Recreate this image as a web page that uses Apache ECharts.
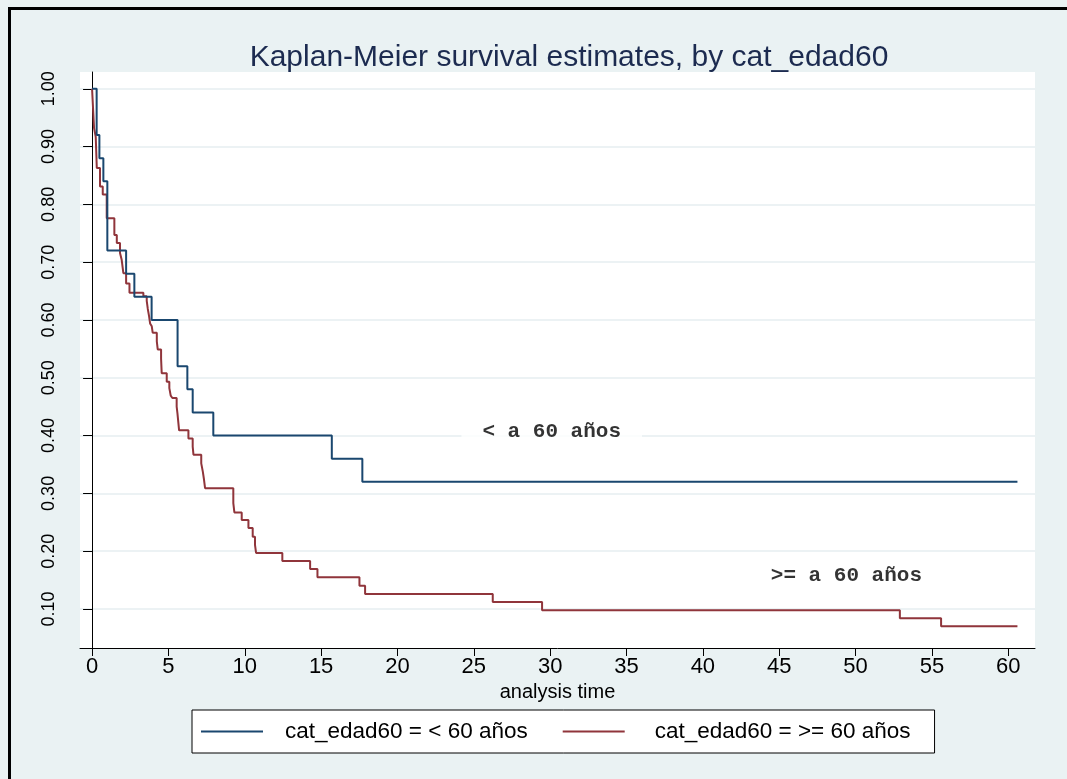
<!DOCTYPE html>
<html>
<head>
<meta charset="utf-8">
<script src="https://cdn.jsdelivr.net/npm/echarts@6/dist/echarts.min.js"></script>
<style>
  html, body { margin: 0; padding: 0; background: #eaf2f3; overflow: hidden; }
  #chart { width: 1067px; height: 779px; }
</style>
</head>
<body>
<div id="chart"></div>
<script>
// < 60 años : temps d'événement et survie estimée
var youngTime = [0, 0.30, 0.48, 0.74, 1.00, 2.23, 2.77, 3.90, 5.60, 6.24, 6.59, 7.94, 15.70, 17.70, 60.60]
var youngSurv = [1.00, 0.92, 0.88, 0.84, 0.72, 0.68, 0.64, 0.60, 0.52, 0.48, 0.44, 0.40, 0.36, 0.32, 0.32]

// >= 60 años
var oldTime = [0, 0.08, 0.13, 0.24, 0.31, 0.52, 0.70, 0.96, 1.46, 1.62, 1.83, 1.94, 2.05, 2.23, 2.45,
  3.36, 3.58, 3.65, 3.73, 3.80, 3.91, 3.97, 4.24, 4.30, 4.52, 4.56, 4.89, 5.06, 5.15, 5.26, 5.54, 5.59,
  5.70, 6.31, 6.59, 6.64, 7.15, 7.25, 7.33, 7.40, 9.25, 9.32, 9.80, 10.24, 10.52, 10.67, 10.74, 12.46,
  14.28, 14.76, 17.51, 17.88, 26.24, 29.47, 52.90, 55.60, 60.60]
var oldSurv = [1.000, 0.958, 0.932, 0.917, 0.863, 0.831, 0.817, 0.776, 0.747, 0.733, 0.716, 0.704, 0.681, 0.663, 0.647,
  0.641, 0.633, 0.619, 0.607, 0.594, 0.589, 0.578, 0.563, 0.549, 0.533, 0.508, 0.493, 0.482, 0.469, 0.465, 0.450, 0.439,
  0.409, 0.395, 0.381, 0.367, 0.352, 0.338, 0.324, 0.309, 0.283, 0.267, 0.254, 0.240, 0.225, 0.211, 0.197, 0.183,
  0.169, 0.155, 0.140, 0.126, 0.112, 0.098, 0.084, 0.070, 0.070]

var groupNames = ['cat_edad60 = < 60 años', 'cat_edad60 = >= 60 años']

// ticks des axes
var xTicks = [0, 5, 10, 15, 20, 25, 30, 35, 40, 45, 50, 55, 60]
var yTicks = [0.1, 0.2, 0.3, 0.4, 0.5, 0.6, 0.7, 0.8, 0.9, 1.0]

// textes posés dans le graphique (temps, survie)
var noteText = ['< a 60 años', '>= a 60 años']
var noteX = [30.1, 49.4]
var noteY = [0.406, 0.157]

function pairs(xs, ys) {
  return xs.map(function (x, i) { return [x, ys[i]] })
}

var chart = echarts.init(document.getElementById('chart'))

var option = {
  animation: false,
  backgroundColor: '#eaf2f3',
  // cadre noir haut/gauche comme l'export Stata
  graphic: [
    { type: 'polyline', silent: true, shape: { points: [[9.5, 779], [9.5, 8.5], [1067, 8.5]] },
      style: { stroke: '#000', lineWidth: 3, fill: null } }
  ],
  title: {
    text: 'Kaplan-Meier survival estimates, by cat_edad60',
    left: 564,
    textAlign: 'center',
    top: 38,
    textStyle: { fontFamily: 'Liberation Sans, Arial', fontWeight: 'normal', fontSize: 30, color: '#1c2b50' }
  },
  grid: {
    left: 80, right: 32, top: 72, bottom: 131,
    show: true, backgroundColor: '#fff', borderWidth: 0
  },
  legend: {
    data: groupNames,
    left: 192,
    top: 710,
    padding: [10, 24, 10, 9],
    borderColor: '#000',
    borderWidth: 1,
    backgroundColor: '#fff',
    icon: 'rect',
    itemWidth: 62,
    itemHeight: 2,
    itemGap: 35,
    // écart trait/texte un peu plus grand pour le 2e groupe
    formatter: function (n) { return (n === groupNames[0] ? '{a|' : '{b|') + n + '}' },
    textStyle: {
      rich: {
        a: { fontFamily: 'Liberation Sans, Arial', fontSize: 22.5, color: '#000', padding: [0, 0, 0, 17] },
        b: { fontFamily: 'Liberation Sans, Arial', fontSize: 22.5, color: '#000', padding: [0, 0, 0, 25] }
      }
    }
  },
  xAxis: {
    type: 'value',
    min: -0.79,
    max: 61.75,
    name: 'analysis time',
    nameLocation: 'middle',
    nameGap: 30,
    nameTextStyle: { fontFamily: 'Liberation Sans, Arial', fontSize: 20, color: '#000' },
    axisLine: { show: true, lineStyle: { color: '#000', width: 1 } },
    axisTick: { show: true, length: 8, customValues: xTicks, lineStyle: { color: '#000' } },
    axisLabel: { customValues: xTicks, margin: 8, fontFamily: 'Liberation Sans, Arial', fontSize: 22, color: '#000' },
    splitLine: { show: false }
  },
  yAxis: {
    type: 'value',
    min: 0.0325,
    max: 1.029,
    axisLine: { show: true, lineStyle: { color: '#000', width: 1 } },
    axisTick: { show: true, length: 9, customValues: yTicks, lineStyle: { color: '#000' } },
    axisLabel: {
      customValues: yTicks, rotate: 90, margin: 22,
      fontFamily: 'Liberation Sans, Arial', fontSize: 18, color: '#000',
      formatter: function (v) { return v.toFixed(2) }
    },
    splitLine: { show: true, lineStyle: { color: '#e6eef1', width: 1.5 } }
  },
  series: [
    {
      name: groupNames[0],
      type: 'line',
      step: 'end',
      symbol: 'none',
      color: '#1a476f',
      lineStyle: { width: 2, color: '#1a476f' },
      data: pairs(youngTime, youngSurv),
      z: 3
    },
    {
      name: groupNames[1],
      type: 'line',
      step: 'end',
      symbol: 'none',
      color: '#90353b',
      lineStyle: { width: 2, color: '#90353b' },
      data: pairs(oldTime, oldSurv),
      z: 2
    },
    {
      name: 'notes',
      type: 'scatter',
      symbolSize: 0,
      silent: true,
      z: 5,
      data: noteText.map(function (t, i) { return { name: t, value: [noteX[i], noteY[i]] } }),
      label: {
        show: true,
        position: 'inside',
        formatter: '{b}',
        fontFamily: 'Liberation Mono, Courier New, monospace',
        fontWeight: 'bold',
        fontSize: 21,
        color: '#000',
        backgroundColor: '#fff',
        padding: [4, 21]
      }
    }
  ]
}

chart.setOption(option)
</script>
</body>
</html>
